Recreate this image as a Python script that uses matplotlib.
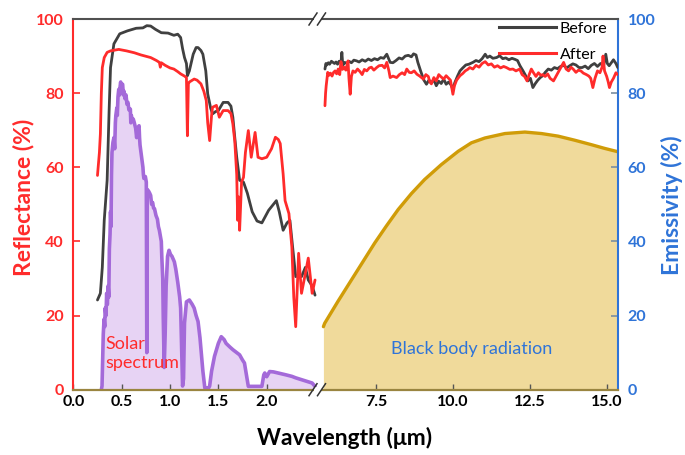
import matplotlib
matplotlib.use("Agg")
import matplotlib.pyplot as plt
from matplotlib.lines import Line2D
from matplotlib.patches import Rectangle

plt.rcParams['font.family'] = ['Lato', 'DejaVu Sans']

# ---------------- data ----------------
# Reflectance, visible/NIR segment (um, %)
wl_before_vis = [0.25, 0.28, 0.30, 0.32, 0.35, 0.37, 0.385, 0.42, 0.48, 0.56, 0.65, 0.72, 0.76, 0.80,
                 0.85, 0.91, 0.98, 1.04, 1.08, 1.11, 1.13, 1.15, 1.17, 1.18, 1.20, 1.24, 1.27, 1.29,
                 1.32, 1.34, 1.37, 1.39, 1.42, 1.44, 1.47, 1.50, 1.55, 1.60, 1.63, 1.65, 1.67, 1.69,
                 1.72, 1.76, 1.80, 1.85, 1.90, 1.95, 2.02, 2.10, 2.13, 2.17, 2.21, 2.24, 2.27, 2.30,
                 2.33, 2.36, 2.40, 2.43, 2.47, 2.50]
before_vis = [24.2, 26.0, 33.0, 45.7, 56.5, 75.0, 86.9, 93.3, 96.0, 96.8, 97.5, 97.6, 98.2, 98.1,
              97.2, 96.3, 96.2, 95.6, 95.9, 95.0, 92.0, 89.6, 88.0, 84.7, 86.0, 90.5, 92.3, 92.3,
              91.5, 90.5, 86.0, 79.8, 76.0, 74.4, 75.0, 75.3, 77.5, 77.5, 76.5, 73.5, 68.0, 62.7,
              56.5, 56.0, 53.0, 48.0, 45.5, 45.0, 48.4, 51.0, 48.0, 43.0, 45.0, 45.7, 38.0, 30.5,
              31.0, 30.5, 33.0, 29.6, 28.0, 25.5]

wl_after_vis = [0.25, 0.27, 0.28, 0.29, 0.30, 0.32, 0.35, 0.385, 0.47, 0.55, 0.63, 0.70, 0.80, 0.86,
                0.89, 0.90, 0.91, 0.95, 1.00, 1.04, 1.08, 1.11, 1.15, 1.17, 1.18, 1.19, 1.20, 1.25,
                1.28, 1.32, 1.35, 1.375, 1.39, 1.41, 1.43, 1.44, 1.48, 1.51, 1.55, 1.60, 1.63, 1.65,
                1.67, 1.69, 1.70, 1.71, 1.72, 1.74, 1.76, 1.78, 1.81, 1.84, 1.88, 1.91, 1.95, 2.00,
                2.05, 2.09, 2.12, 2.14, 2.17, 2.19, 2.23, 2.26, 2.28, 2.30, 2.32, 2.33, 2.36, 2.39,
                2.43, 2.47, 2.50]
after_vis = [57.8, 64.0, 69.0, 80.0, 86.9, 89.6, 91.0, 91.4, 91.8, 91.4, 90.9, 90.3, 89.6, 88.8,
             88.3, 87.0, 88.2, 87.5, 86.8, 86.5, 85.8, 85.2, 84.6, 84.2, 68.5, 82.5, 83.0, 83.8,
             83.5, 82.5, 80.5, 78.0, 72.0, 67.2, 74.0, 76.2, 76.7, 73.5, 75.3, 75.3, 74.5, 71.7,
             67.0, 58.0, 45.7, 52.0, 43.0, 56.0, 57.3, 64.0, 69.9, 62.7, 69.4, 62.7, 62.3, 62.7,
             65.0, 68.1, 67.5, 66.4, 58.2, 51.0, 47.5, 38.5, 25.0, 17.0, 30.0, 36.8, 26.0, 30.0,
             35.5, 26.0, 29.6]

# Mid-IR segment (um, %)
wl_before_ir = [5.84, 5.87, 5.90, 5.95, 5.99, 6.05, 6.10, 6.15, 6.20, 6.25,
                6.30, 6.36, 6.39, 6.42, 6.48, 6.55, 6.62, 6.70, 6.78, 6.87,
                6.95, 7.05, 7.15, 7.25, 7.35, 7.45, 7.55, 7.65, 7.75, 7.85,
                7.90, 7.96, 8.05, 8.15, 8.25, 8.35, 8.45, 8.55, 8.65, 8.72,
                8.80, 8.86, 8.95, 9.05, 9.14, 9.22, 9.30, 9.38, 9.46, 9.54,
                9.62, 9.70, 9.78, 9.86, 9.94, 10.00, 10.06, 10.15, 10.23, 10.32,
                10.42, 10.52, 10.65, 10.75, 10.85, 10.95, 11.05, 11.12, 11.20, 11.30,
                11.42, 11.52, 11.62, 11.72, 11.82, 11.92, 12.02, 12.10, 12.18, 12.28,
                12.36, 12.44, 12.52, 12.60, 12.68, 12.76, 12.84, 12.92, 13.00, 13.10,
                13.20, 13.30, 13.40, 13.50, 13.60, 13.70, 13.80, 13.90, 14.00, 14.10,
                14.20, 14.30, 14.40, 14.50, 14.60, 14.70, 14.80, 14.90, 14.97, 15.02,
                15.08, 15.15, 15.22, 15.30, 15.36]
before_ir = [86.5, 88.0, 87.6, 88.2, 87.8, 88.6, 88.3, 88.0, 88.4, 87.8,
             88.6, 88.2, 91.0, 87.5, 88.3, 88.0, 88.6, 88.2, 88.9, 88.7,
             88.4, 89.0, 88.6, 89.2, 88.8, 89.3, 89.0, 89.6, 89.4, 90.5,
             89.5, 88.3, 88.2, 88.8, 89.5, 89.2, 90.0, 90.2, 89.8, 90.6,
             90.3, 88.3, 86.0, 83.6, 82.4, 83.5, 82.8, 83.6, 82.0, 83.2,
             82.6, 83.8, 82.4, 83.0, 82.2, 81.0, 82.8, 84.6, 86.0, 86.8,
             87.6, 87.8, 88.3, 88.8, 88.5, 89.3, 90.5, 89.6, 90.0, 89.4,
             89.6, 90.1, 89.3, 89.5, 89.0, 89.4, 89.1, 88.8, 87.4, 86.0,
             84.8, 83.3, 84.0, 81.5, 82.6, 83.5, 84.2, 84.7, 85.6, 86.5,
             86.2, 86.9, 86.6, 87.2, 87.5, 86.8, 87.4, 87.9, 87.6, 86.9,
             86.9, 87.3, 86.6, 87.5, 88.0, 87.2, 88.0, 87.5, 90.5, 88.0,
             87.4, 88.2, 89.0, 88.0, 86.9]

wl_after_ir = [5.84, 5.86, 5.88, 5.93, 5.97, 6.02, 6.07, 6.12, 6.17, 6.22,
               6.27, 6.32, 6.36, 6.41, 6.46, 6.52, 6.59, 6.62, 6.66, 6.70,
               6.75, 6.82, 6.90, 6.98, 7.05, 7.12, 7.20, 7.28, 7.35, 7.43,
               7.52, 7.60, 7.70, 7.78, 7.85, 7.92, 7.96, 8.05, 8.17, 8.26,
               8.35, 8.43, 8.50, 8.58, 8.65, 8.74, 8.83, 8.92, 9.04, 9.12,
               9.20, 9.25, 9.30, 9.38, 9.46, 9.54, 9.60, 9.70, 9.78, 9.86,
               9.92, 10.00, 10.05, 10.12, 10.23, 10.32, 10.40, 10.48, 10.55, 10.65,
               10.75, 10.85, 10.95, 11.05, 11.15, 11.25, 11.35, 11.45, 11.55, 11.65,
               11.74, 11.85, 11.95, 12.05, 12.17, 12.25, 12.33, 12.41, 12.48, 12.55,
               12.62, 12.70, 12.78, 12.86, 12.92, 13.00, 13.08, 13.16, 13.27, 13.35,
               13.45, 13.52, 13.60, 13.68, 13.76, 13.84, 13.92, 14.00, 14.08, 14.16,
               14.24, 14.34, 14.42, 14.48, 14.55, 14.62, 14.70, 14.78, 14.85, 14.88,
               14.93, 15.00, 15.05, 15.09, 15.15, 15.22, 15.30, 15.36]
after_ir = [76.6, 80.0, 82.0, 85.6, 84.8, 85.4, 84.6, 85.6, 86.0, 85.2,
            86.5, 85.0, 88.5, 86.4, 87.0, 86.2, 88.7, 84.0, 79.7, 84.5,
            86.0, 85.6, 86.5, 85.8, 85.0, 86.4, 86.0, 86.8, 87.0, 86.2,
            86.9, 87.4, 87.5, 86.8, 88.3, 86.0, 84.2, 84.6, 84.2, 85.0,
            85.5, 85.0, 86.5, 85.6, 85.5, 86.0, 85.1, 84.6, 83.8, 85.0,
            84.5, 83.0, 82.5, 84.2, 83.3, 85.0, 84.5, 83.8, 84.7, 84.0,
            83.5, 79.7, 82.0, 83.5, 84.7, 85.3, 86.0, 86.4, 86.9, 86.5,
            87.5, 87.0, 88.0, 88.5, 87.6, 87.9, 87.0, 87.4, 86.8, 87.2,
            86.9, 86.4, 86.5, 86.0, 86.5, 85.0, 84.5, 83.3, 85.0, 86.5,
            85.5, 84.5, 85.5, 84.8, 85.0, 84.5, 85.2, 84.0, 83.3, 84.5,
            86.0, 87.0, 88.3, 86.5, 86.0, 87.0, 86.4, 85.6, 86.2, 86.0,
            85.4, 85.0, 84.6, 84.0, 81.5, 84.0, 86.0, 85.5, 87.0, 90.0,
            86.0, 84.5, 83.0, 81.5, 83.0, 84.0, 85.5, 85.0]

# Solar spectrum (scaled, um, %)
wl_solar = [0.29, 0.297, 0.302, 0.31, 0.318, 0.325, 0.33, 0.338, 0.345, 0.352,
            0.36, 0.367, 0.373, 0.38, 0.385, 0.39, 0.395, 0.40, 0.41, 0.42,
            0.428, 0.435, 0.44, 0.45, 0.455, 0.462, 0.47, 0.478, 0.485, 0.49,
            0.495, 0.50, 0.51, 0.518, 0.525, 0.535, 0.545, 0.555, 0.565, 0.575,
            0.59, 0.595, 0.60, 0.61, 0.62, 0.63, 0.645, 0.655, 0.665, 0.68,
            0.685, 0.69, 0.70, 0.71, 0.72, 0.725, 0.73, 0.745, 0.755, 0.76,
            0.765, 0.78, 0.79, 0.80, 0.81, 0.82, 0.83, 0.84, 0.855, 0.87,
            0.88, 0.89, 0.90, 0.91, 0.915, 0.92, 0.925, 0.93, 0.94, 0.95,
            0.96, 0.975, 0.99, 1.005, 1.02, 1.045, 1.06, 1.08, 1.10, 1.11,
            1.12, 1.13, 1.14, 1.15, 1.17, 1.20, 1.23, 1.25, 1.27, 1.29,
            1.31, 1.32, 1.34, 1.36, 1.40, 1.41, 1.43, 1.46, 1.50, 1.53,
            1.56, 1.58, 1.62, 1.65, 1.70, 1.72, 1.75, 1.77, 1.79, 1.81,
            1.95, 1.97, 1.98, 2.00, 2.03, 2.07, 2.12, 2.20, 2.26, 2.30,
            2.36, 2.42, 2.47, 2.50]
solar = [0.0, 1.0, 6.0, 15.0, 19.0, 17.0, 22.0, 20.0, 26.0, 23.0,
         28.0, 25.0, 38.0, 42.0, 48.0, 44.0, 58.0, 64.0, 66.7, 68.0,
         65.0, 72.0, 74.0, 76.0, 74.0, 79.0, 81.0, 79.5, 82.0, 83.0,
         80.5, 82.0, 82.4, 79.5, 80.5, 78.5, 79.5, 77.0, 77.5, 75.5,
         75.7, 72.0, 74.0, 72.5, 73.0, 72.1, 70.5, 68.0, 70.5, 71.2,
         68.0, 66.0, 64.0, 62.0, 60.0, 58.0, 57.0, 57.5, 56.0, 10.0,
         54.0, 53.5, 53.0, 52.4, 50.0, 50.5, 49.0, 48.8, 47.0, 46.0,
         44.0, 43.0, 41.5, 40.0, 36.0, 33.0, 30.0, 20.0, 6.0, 15.0,
         28.0, 36.0, 37.6, 36.5, 36.0, 34.5, 32.5, 29.0, 25.0, 22.0,
         12.0, 1.0, 3.0, 18.0, 23.7, 24.2, 23.0, 22.0, 20.0, 18.4,
         14.0, 11.0, 5.0, 0.5, 0.5, 1.0, 5.0, 9.0, 12.5, 14.3,
         13.5, 12.5, 11.5, 10.8, 9.8, 9.4, 8.0, 7.2, 4.0, 0.9,
         0.9, 4.0, 4.5, 3.5, 4.9, 4.8, 4.5, 4.0, 3.6, 3.2,
         2.7, 2.2, 1.8, 0.9]

# Black body radiation (scaled, um, %)
wl_bb = [5.79, 5.83, 6.26, 6.70, 7.08, 7.46, 7.84, 8.22, 8.65, 9.08, 9.62, 10.17, 10.60, 11.04,
         11.69, 12.34, 12.88, 13.42, 13.96, 14.50, 14.93, 15.36]
bb = [17.0, 17.9, 23.8, 29.6, 34.6, 39.6, 44.2, 48.6, 52.9, 56.7, 60.7, 64.3, 66.6, 67.9,
      69.1, 69.5, 69.1, 68.4, 67.3, 66.1, 65.1, 64.2]

x_ticks_vis = [0.0, 0.5, 1.0, 1.5, 2.0]
x_ticks_ir = [7.5, 10.0, 12.5, 15.0]
y_ticks = [0, 20, 40, 60, 80, 100]

# ---------------- style ----------------
RED = '#ff2b2b'
GRAY = '#404040'
BLUE = '#2f74d8'
PURPLE = '#a46ad9'
LAVENDER = '#e7d3f4'
GOLD = '#d09c08'
SAND = '#f0da9b'
AXIS_BOTTOM = '#9a8540'

W, H = 685, 455
fig = plt.figure(figsize=(W / 100, H / 100), dpi=100)

x0, xb, x1 = 73.3, 318.0, 618.0
ytop, ybot = 19.0, 389.7
ax1 = fig.add_axes([x0 / W, 1 - ybot / H, (xb - x0) / W, (ybot - ytop) / H])
ax2 = fig.add_axes([xb / W, 1 - ybot / H, (x1 - xb) / W, (ybot - ytop) / H])

LKW = dict(solid_joinstyle='round', solid_capstyle='round')

# solar spectrum
ax1.fill_between(wl_solar, solar, 0, color=LAVENDER, lw=0, zorder=1)
ax1.plot(wl_solar, solar, color=PURPLE, lw=2.6, zorder=2, **LKW)
ax1.plot(wl_before_vis, before_vis, color=GRAY, lw=2.0, zorder=3, **LKW)
ax1.plot(wl_after_vis, after_vis, color=RED, lw=2.0, zorder=4, **LKW)

# black body
ax2.fill_between(wl_bb, bb, 0, color=SAND, lw=0, zorder=1)
ax2.plot(wl_bb, bb, color=GOLD, lw=2.4, zorder=2, **LKW)
ax2.plot(wl_before_ir, before_ir, color=GRAY, lw=2.0, zorder=3, **LKW)
ax2.plot(wl_after_ir, after_ir, color=RED, lw=2.0, zorder=4, **LKW)

ax1.set_xlim(0, (xb - x0) / 96.7)
ax2.set_xlim(7.5 - (376.0 - xb) / 30.75, 15.0 + (x1 - 606.7) / 30.75)
for ax in (ax1, ax2):
    ax.set_ylim(0, 100)
    ax.set_facecolor('none')
    ax.spines['top'].set_color('#505050')
    ax.spines['top'].set_linewidth(1.5)
    ax.spines['bottom'].set_color(AXIS_BOTTOM)
    ax.spines['bottom'].set_linewidth(1.6)
    ax.tick_params(axis='x', direction='in', length=4.5, width=1.0, color='#555555',
                   labelsize=11.5, pad=4, top=False)

ax1.set_xticks(x_ticks_vis)
ax1.set_xticklabels([f'{v:.1f}' for v in x_ticks_vis], fontweight='bold')
ax2.set_xticks(x_ticks_ir)
ax2.set_xticklabels([f'{v:.1f}' for v in x_ticks_ir], fontweight='bold')

ax1.spines['right'].set_visible(False)
ax1.spines['left'].set_color(RED)
ax1.spines['left'].set_linewidth(1.5)
ax1.set_yticks(y_ticks)
ax1.set_yticklabels([str(v) for v in y_ticks], fontweight='bold', color=RED)
ax1.tick_params(axis='y', direction='in', length=5, width=1.2, color=RED, labelsize=11.5, pad=7)

ax2.spines['left'].set_visible(False)
ax2.spines['right'].set_color(BLUE)
ax2.spines['right'].set_linewidth(1.5)
ax2.yaxis.tick_right()
ax2.set_yticks(y_ticks)
ax2.set_yticklabels([str(v) for v in y_ticks], fontweight='bold', color=BLUE)
ax2.tick_params(axis='y', which='both', left=False, right=True, direction='in', length=5,
                width=1.2, color='#7a8ea0', labelsize=11.5, pad=7)

# legend
handles = [Line2D([], [], color=GRAY, lw=2.2), Line2D([], [], color=RED, lw=2.2)]
leg = ax2.legend(handles, ['Before', 'After'], loc='upper right', frameon=False,
                 fontsize=11.5, handlelength=3.6, handletextpad=0.2, labelspacing=0.75,
                 borderaxespad=0.0, bbox_to_anchor=(0.985, 1.01))

# annotations
ax1.text(0.33, 9.7, 'Solar\nspectrum', color=RED, fontsize=13, ha='left', va='center',
         linespacing=1.2, zorder=5)
ax2.text(10.6, 11.0, 'Black body radiation', color=BLUE, fontsize=13, ha='center', va='center',
         zorder=5)

# axis labels
fig.text(24 / W, 1 - 197 / H, 'Reflectance (%)', color=RED, fontsize=16.5, fontweight='bold',
         rotation=90, ha='center', va='center')
fig.text(672 / W, 1 - 205 / H, 'Emissivity (%)', color=BLUE, fontsize=16.5, fontweight='bold',
         rotation=90, ha='center', va='center')
fig.text(345 / W, 1 - 438 / H, 'Wavelength (\u03bcm)', color='black', fontsize=16.5,
         fontweight='bold', ha='center', va='center')

# axis break marks
for yy in (ytop, ybot):
    fig.add_artist(Rectangle(((313.5) / W, 1 - (yy + 2.5) / H), 7.5 / W, 5 / H,
                             transform=fig.transFigure, color='white', zorder=10, lw=0))
    for cx in (313.0, 321.5):
        fig.add_artist(Line2D([(cx - 4) / W, (cx + 4) / W],
                              [1 - (yy + 6) / H, 1 - (yy - 6) / H],
                              transform=fig.transFigure, color='#333333', lw=1.1, zorder=11))

fig.savefig('out.png', dpi=100)
